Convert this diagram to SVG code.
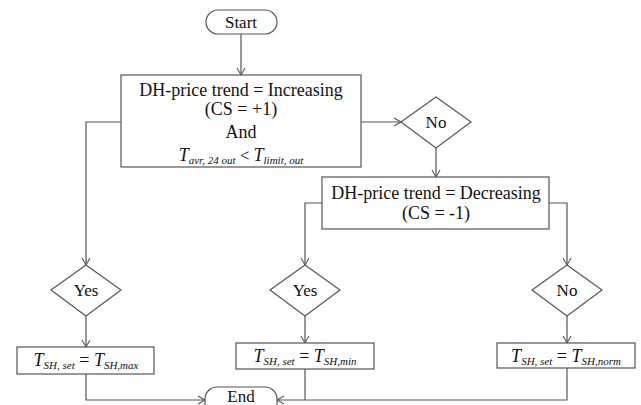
<svg xmlns="http://www.w3.org/2000/svg" width="641" height="405" viewBox="0 0 641 405" font-family="'Liberation Serif','Times New Roman','DejaVu Serif',serif">
<style>
.s{fill:#fff;stroke:#555;stroke-width:1.2}
.c{fill:none;stroke:#555;stroke-width:1.2}
text{font-family:'Liberation Serif','Times New Roman','DejaVu Serif',serif;fill:#111;font-size:17px;text-anchor:middle}
.b{font-size:18px}
.i{font-style:italic}
.sub{font-size:11px;font-style:italic}
</style>
<defs>
<marker id="a" markerWidth="10" markerHeight="10" refX="8" refY="5" orient="auto" markerUnits="userSpaceOnUse">
<path d="M1,1 L8,5 L1,9" fill="none" stroke="#555" stroke-width="1.1"/>
</marker>
</defs>
<g id="connectors">
<path class="c" d="M241,34 V75" marker-end="url(#a)"/>
<path class="c" d="M121,122 H86 V265" marker-end="url(#a)"/>
<path class="c" d="M361,122 H401" marker-end="url(#a)"/>
<path class="c" d="M436,148 V177" marker-end="url(#a)"/>
<path class="c" d="M322,203 H305 V265" marker-end="url(#a)"/>
<path class="c" d="M549,203 H567 V265" marker-end="url(#a)"/>
<path class="c" d="M86,316 V347" marker-end="url(#a)"/>
<path class="c" d="M305,316 V343" marker-end="url(#a)"/>
<path class="c" d="M567,316 V343" marker-end="url(#a)"/>
<path class="c" d="M86,374 V400 H205" marker-end="url(#a)"/>
<path class="c" d="M567,368 V400 H277" marker-end="url(#a)"/>
<path class="c" d="M305,369 V400"/>
</g>
<g id="start">
<rect class="s" x="206" y="10" width="71" height="24" rx="12"/>
<text x="241" y="28">Start</text>
</g>
<g id="cond1">
<rect class="s" x="121" y="75" width="240" height="92"/>
<text class="b" x="241" y="96">DH-price trend = Increasing</text>
<text class="b" x="241" y="115">(CS = +1)</text>
<text class="b" x="241" y="138">And</text>
<text x="241" y="161"><tspan class="i" font-size="18">T</tspan><tspan class="sub" dy="3">avr, 24 out</tspan><tspan dy="-3"> &lt; </tspan><tspan class="i" font-size="18">T</tspan><tspan class="sub" dy="3">limit, out</tspan></text>
</g>
<g id="no1">
<polygon class="s" points="436,97 471,122 436,148 401,122"/>
<text x="436" y="128">No</text>
</g>
<g id="cond2">
<rect class="s" x="322" y="177" width="227" height="52"/>
<text class="b" x="436" y="199">DH-price trend = Decreasing</text>
<text class="b" x="436" y="219">(CS = -1)</text>
</g>
<g id="yes1">
<polygon class="s" points="86,265 121,290 86,316 51,290"/>
<text x="86" y="296">Yes</text>
</g>
<g id="yes2">
<polygon class="s" points="305,265 340,290 305,316 270,290"/>
<text x="305" y="296">Yes</text>
</g>
<g id="no2">
<polygon class="s" points="567,265 602,290 567,316 532,290"/>
<text x="567" y="296">No</text>
</g>
<g id="setmax">
<rect class="s" x="17" y="347" width="137" height="27"/>
<text x="86" y="366"><tspan class="i" font-size="18">T</tspan><tspan class="sub" dy="3">SH, set</tspan><tspan dy="-3" font-size="18"> = </tspan><tspan class="i" font-size="18">T</tspan><tspan class="sub" dy="3">SH,max</tspan></text>
</g>
<g id="setmin">
<rect class="s" x="236" y="343" width="138" height="26"/>
<text x="305" y="362"><tspan class="i" font-size="18">T</tspan><tspan class="sub" dy="3">SH, set</tspan><tspan dy="-3" font-size="18"> = </tspan><tspan class="i" font-size="18">T</tspan><tspan class="sub" dy="3">SH,min</tspan></text>
</g>
<g id="setnorm">
<rect class="s" x="497" y="343" width="138" height="25"/>
<text x="566" y="362"><tspan class="i" font-size="18">T</tspan><tspan class="sub" dy="3">SH, set</tspan><tspan dy="-3" font-size="18"> = </tspan><tspan class="i" font-size="18">T</tspan><tspan class="sub" dy="3">SH,norm</tspan></text>
</g>
<g id="end">
<rect class="s" x="205" y="387" width="72" height="30" rx="12"/>
<text x="241" y="402">End</text>
</g>
</svg>
